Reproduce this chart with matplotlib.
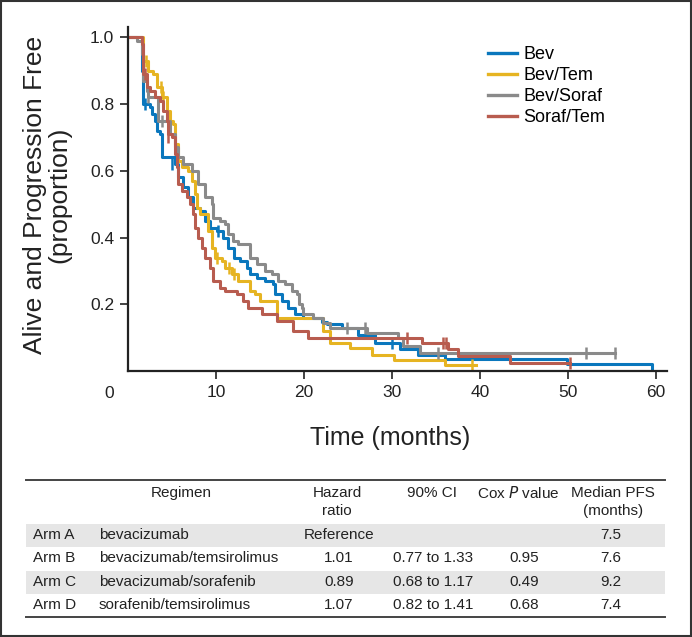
import numpy as np
import matplotlib.pyplot as plt
from matplotlib.patches import Rectangle
from matplotlib.lines import Line2D

# Kaplan-Meier steps: (time in months, survival after the drop)
bev_t = [1.6, 1.7, 2.5, 2.7, 3.1, 3.3, 3.6, 3.9, 5.3, 5.7, 6.25, 6.8, 7.4, 8.2, 8.75, 9.3,
         10.1, 10.8, 11.4, 12.0, 12.7, 13.5, 13.9, 14.7, 15.6, 16.5, 16.7, 17.5, 18.2, 19.0,
         19.9, 22.0, 22.6, 24.3, 26.1, 28.1, 30.9, 33.0, 36.0, 49.9, 59.5]
bev_s = [0.90, 0.80, 0.79, 0.77, 0.75, 0.72, 0.71, 0.64, 0.62, 0.58, 0.55, 0.52, 0.49, 0.48, 0.45, 0.43,
         0.42, 0.40, 0.37, 0.34, 0.33, 0.31, 0.29, 0.28, 0.27, 0.26, 0.23, 0.21, 0.19, 0.17,
         0.16, 0.147, 0.14, 0.13, 0.108, 0.085, 0.065, 0.048, 0.035, 0.02, 0.0]
bev_end = 59.5
bev_cens_t = [1.9, 5.0, 10.2, 30.0]
bev_cens_s = [0.80, 0.62, 0.42, 0.085]

tem_t = [1.7, 2.3, 2.8, 3.3, 3.9, 4.4, 4.8, 5.1, 5.35, 5.7, 6.1, 6.8, 7.3, 7.6, 7.85, 8.2,
         9.1, 9.5, 9.9, 10.7, 11.0, 11.8, 12.5, 13.9, 14.4, 15.0, 16.9, 22.2, 23.0, 25.2,
         27.7, 30.2, 36.0]
tem_s = [0.93, 0.90, 0.89, 0.85, 0.82, 0.78, 0.75, 0.74, 0.68, 0.63, 0.61, 0.60, 0.57, 0.53, 0.49, 0.47,
         0.42, 0.37, 0.34, 0.33, 0.31, 0.29, 0.27, 0.24, 0.23, 0.21, 0.16, 0.12, 0.085, 0.068,
         0.048, 0.033, 0.018]
tem_end = 39.6
tem_cens_t = [2.1, 3.7, 4.0, 10.1, 11.5, 12.1, 39.1]
tem_cens_s = [0.93, 0.85, 0.82, 0.34, 0.31, 0.29, 0.018]

sor_t = [1.0, 1.6, 1.7, 2.2, 2.3, 3.4, 4.8, 5.3, 5.7, 6.25, 7.3, 7.9, 8.75, 9.5, 9.7, 10.4,
         11.0, 11.4, 11.9, 12.5, 13.9, 14.7, 15.6, 16.4, 17.0, 17.8, 18.6, 19.2, 19.4, 19.8,
         19.9, 21.0, 22.2, 23.0, 27.2, 30.7, 31.2, 33.2]
sor_s = [0.99, 0.95, 0.87, 0.84, 0.82, 0.75, 0.71, 0.67, 0.64, 0.62, 0.60, 0.56, 0.52, 0.50, 0.46, 0.45,
         0.44, 0.41, 0.39, 0.38, 0.34, 0.32, 0.30, 0.29, 0.27, 0.26, 0.24, 0.23, 0.20, 0.19,
         0.17, 0.16, 0.145, 0.13, 0.115, 0.10, 0.075, 0.055]
sor_end = 55.3
sor_cens_t = [2.3, 3.9, 24.9, 26.9, 35.2, 52.0, 55.3]
sor_cens_s = [0.82, 0.75, 0.13, 0.13, 0.055, 0.055, 0.055]

st_t = [1.6, 1.7, 2.2, 2.5, 3.1, 3.6, 4.0, 4.4, 4.5, 5.0, 5.3, 5.55, 5.7, 6.1, 6.7, 7.0,
        7.4, 7.6, 7.95, 8.4, 8.75, 9.3, 9.65, 10.45, 11.0, 12.4, 13.1, 13.6, 15.2, 16.9,
        18.75, 20.5, 33.4, 36.4, 37.5, 43.4]
st_s = [0.98, 0.89, 0.85, 0.84, 0.82, 0.81, 0.78, 0.75, 0.71, 0.70, 0.65, 0.61, 0.56, 0.54, 0.52, 0.50,
        0.47, 0.43, 0.40, 0.37, 0.34, 0.31, 0.27, 0.25, 0.24, 0.23, 0.21, 0.19, 0.17, 0.15,
        0.12, 0.10, 0.085, 0.065, 0.045, 0.025]
st_end = 50.2
st_cens_t = [1.9, 4.6, 31.7, 35.8, 36.1, 50.2]
st_cens_s = [0.89, 0.70, 0.10, 0.085, 0.085, 0.025]

labels = ['Bev', 'Bev/Tem', 'Bev/Soraf', 'Soraf/Tem']
colors = ['#0a77bd', '#e6b422', '#8a8a8a', '#b85c4f']

# table
arms = ['Arm A', 'Arm B', 'Arm C', 'Arm D']
regimens = ['bevacizumab', 'bevacizumab/temsirolimus', 'bevacizumab/sorafenib', 'sorafenib/temsirolimus']
hazard = ['Reference', '1.01', '0.89', '1.07']
ci = ['', '0.77 to 1.33', '0.68 to 1.17', '0.82 to 1.41']
pvals = ['', '0.95', '0.49', '0.68']
median = ['7.5', '7.6', '9.2', '7.4']

W, H = 692, 637
fig = plt.figure(figsize=(W / 100, H / 100), dpi=100)
plt.rcParams['font.family'] = ['Liberation Sans', 'DejaVu Sans']


def fx(px):
    return px / W


def fy(py):
    return 1 - py / H


ax = fig.add_axes([fx(128), fy(371), fx(667) - fx(128), fy(27) - fy(371)])

curves = [(bev_t, bev_s, bev_end, bev_cens_t, bev_cens_s),
          (tem_t, tem_s, tem_end, tem_cens_t, tem_cens_s),
          (sor_t, sor_s, sor_end, sor_cens_t, sor_cens_s),
          (st_t, st_s, st_end, st_cens_t, st_cens_s)]

for (t, s, end, ct, cs), c, lab in zip(curves, colors, labels):
    tt = [0] + t + [end]
    ss = [1.0] + s + [s[-1]]
    ax.step(tt, ss, where='post', color=c, lw=2.2, label=lab)
    ax.plot(ct, cs, ls='none', marker='|', ms=9, mew=1.8, color=c)

ax.set_xlim(0, 61.25)
ax.set_ylim(0, 1.031)
ax.set_xticks([10, 20, 30, 40, 50, 60])
ax.set_yticks([0.2, 0.4, 0.6, 0.8, 1.0])
ax.set_yticklabels(['0.2', '0.4', '0.6', '0.8', '1.0'])
ax.tick_params(direction='out', length=6, width=1.2, labelsize=12.5, colors='#222222', pad=4)
for side in ['top', 'right']:
    ax.spines[side].set_visible(False)
for side in ['left', 'bottom']:
    ax.spines[side].set_linewidth(1.6)
    ax.spines[side].set_color('#222222')

fig.text(fx(109), fy(393), '0', ha='center', va='center', fontsize=12.5, color='#222222')
fig.text(fx(47), fy(195), 'Alive and Progression Free\n(proportion)', rotation=90,
         ha='center', va='center', fontsize=19, color='#222222', multialignment='center',
         linespacing=1.0)
fig.text(fx(390), fy(438), 'Time (months)', ha='center', va='center', fontsize=18,
         color='#222222')

handles = [Line2D([], [], color=c, lw=2.4) for c in colors]
ax.legend(handles, labels, loc='upper left', bbox_to_anchor=(fx(488), fy(46)),
          bbox_transform=fig.transFigure, frameon=False, fontsize=13,
          handlelength=1.6, handletextpad=0.35, labelspacing=0.22, borderpad=0, borderaxespad=0)

# table lines and shading
tl, tr = fx(26), fx(665)
fig.add_artist(Line2D([tl, tr], [fy(480), fy(480)], color='#444444', lw=1.4, transform=fig.transFigure))
fig.add_artist(Line2D([tl, tr], [fy(617), fy(617)], color='#444444', lw=1.4, transform=fig.transFigure))
row_y = [535, 558, 582, 605]
for i, y in enumerate(row_y):
    if i % 2 == 0:
        fig.add_artist(Rectangle((tl, fy(y + 11.5)), tr - tl, fy(y - 11.5) - fy(y + 11.5),
                                 transform=fig.transFigure, color='#e6e6e6', lw=0, zorder=0))

tfs = 11
tc = '#222222'
hdr_y = 493
fig.text(fx(181), fy(hdr_y), 'Regimen', ha='center', va='center', fontsize=tfs, color=tc)
fig.text(fx(337), fy(502), 'Hazard\nratio', ha='center', va='center', fontsize=tfs, color=tc,
         linespacing=1.3)
fig.text(fx(432), fy(hdr_y), '90% CI', ha='center', va='center', fontsize=tfs, color=tc)
fig.text(fx(518), fy(hdr_y), 'Cox $\\it{P}$ value', ha='center', va='center', fontsize=tfs, color=tc)
fig.text(fx(613), fy(502), 'Median PFS\n(months)', ha='center', va='center', fontsize=tfs, color=tc,
         linespacing=1.3)

for i, y in enumerate(row_y):
    fig.text(fx(33), fy(y), arms[i], ha='left', va='center', fontsize=tfs, color=tc)
    fig.text(fx(99), fy(y), regimens[i], ha='left', va='center', fontsize=tfs, color=tc)
    fig.text(fx(339), fy(y), hazard[i], ha='center', va='center', fontsize=tfs, color=tc)
    fig.text(fx(433), fy(y), ci[i], ha='center', va='center', fontsize=tfs, color=tc)
    fig.text(fx(524), fy(y), pvals[i], ha='center', va='center', fontsize=tfs, color=tc)
    fig.text(fx(611), fy(y), median[i], ha='center', va='center', fontsize=tfs, color=tc)

# outer frame
fig.add_artist(Rectangle((0.0015, 0.0015), 0.997, 0.997, transform=fig.transFigure,
                         fill=False, ec='#333333', lw=1.5))

fig.savefig('out.png', dpi=100)
